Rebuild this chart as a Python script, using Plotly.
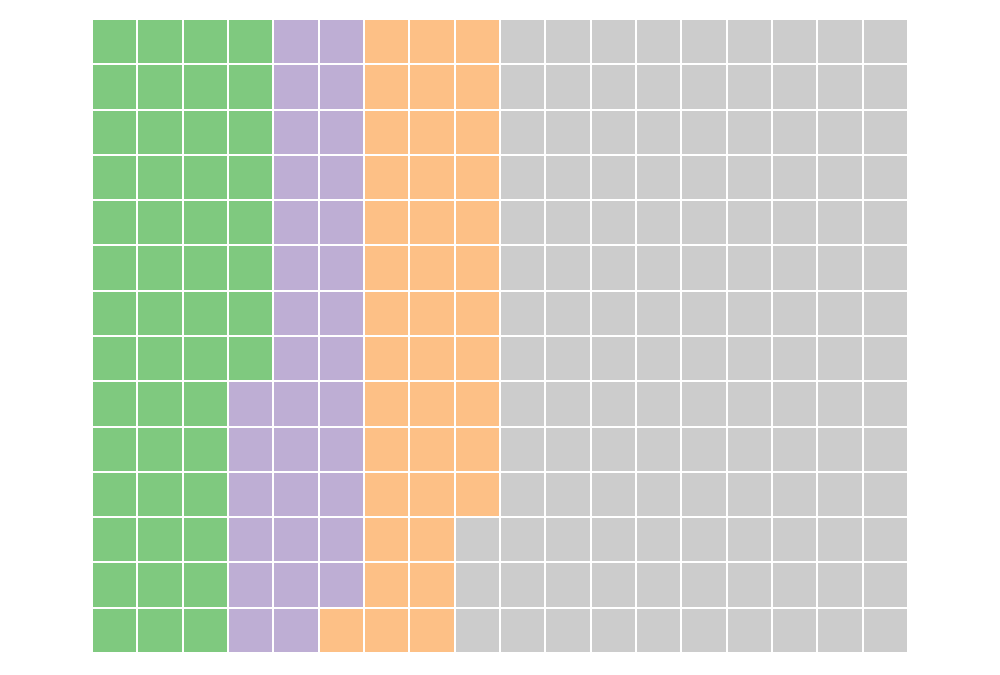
import plotly.graph_objects as go

categories = ["Green", "Purple", "Orange", "Gray"]
counts = [50, 33, 40, 129]
colors = ["#7fc97f", "#beaed4", "#fdc086", "#cccccc"]
n_cols = 18
n_rows = 14

# column-major fill, top to bottom, left to right
cells = []
for i, c in enumerate(counts):
    cells += [i] * c
z = [[None] * n_cols for _ in range(n_rows)]
text = [[""] * n_cols for _ in range(n_rows)]
for k, v in enumerate(cells):
    col, row = divmod(k, n_rows)
    z[row][col] = v
    text[row][col] = categories[v]

n = len(categories)
colorscale = []
for i, col in enumerate(colors):
    colorscale.append([i / n, col])
    colorscale.append([(i + 1) / n, col])

fig = go.Figure(go.Heatmap(
    z=z, text=text, hovertemplate="%{text}<extra></extra>",
    x=list(range(n_cols)), y=list(range(n_rows)),
    zmin=-0.5, zmax=n - 0.5, colorscale=colorscale, showscale=False,
    xgap=2, ygap=2,
))
fig.update_layout(
    width=1000, height=675,
    margin=dict(l=84, r=100, t=11, b=30),
    plot_bgcolor="white", paper_bgcolor="white",
    xaxis=dict(visible=False, range=[-0.5, n_cols - 0.5]),
    yaxis=dict(visible=False, range=[n_rows - 0.5, -0.5]),
)
fig.write_html("out.html")
